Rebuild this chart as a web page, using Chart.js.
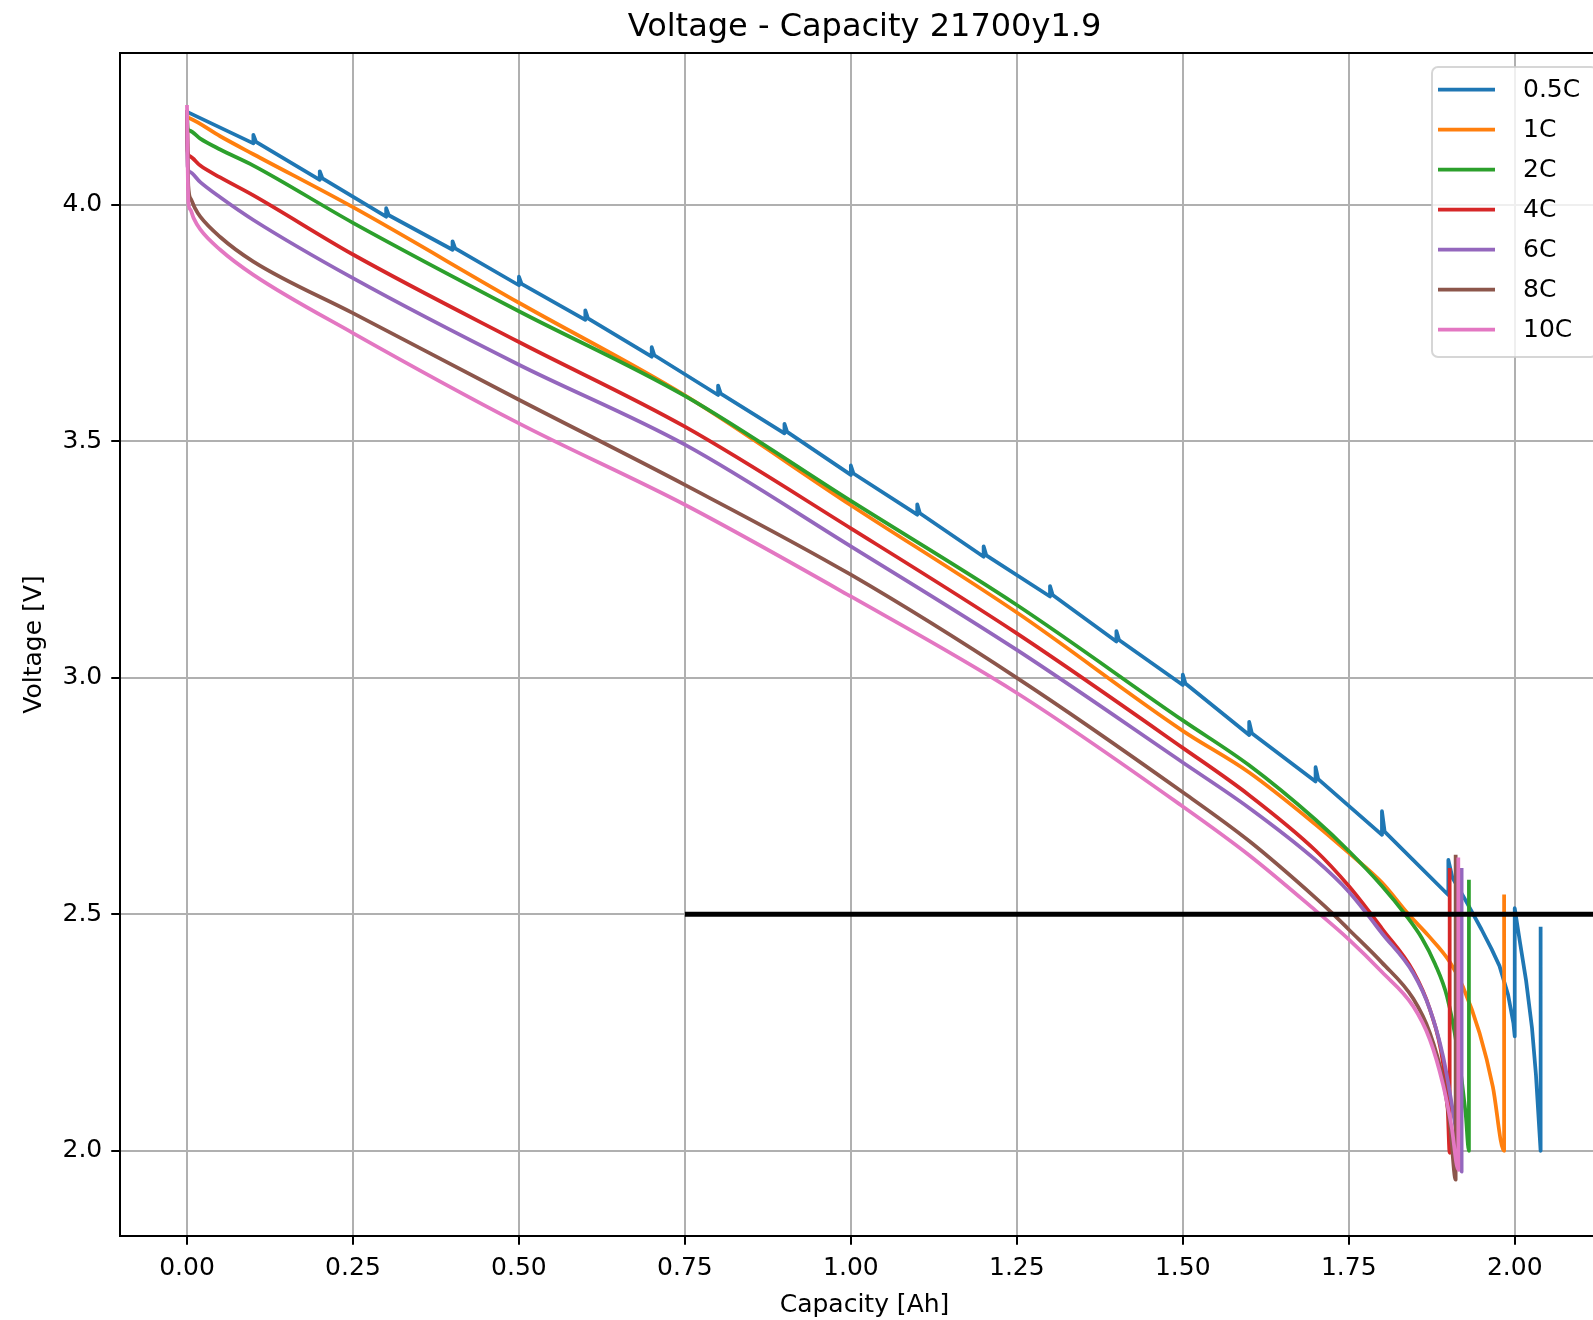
<!DOCTYPE html>
<html>
<head>
<meta charset="utf-8">
<script src="https://cdn.jsdelivr.net/npm/chart.js@4.4.1/dist/chart.umd.min.js"></script>
<style>
  html, body { margin: 0; padding: 0; background: #fff; overflow: hidden; }
  #wrap { width: 1728px; height: 1320px; }
</style>
</head>
<body>
<div id="wrap"><canvas id="graphCanvas" width="1728" height="1320"></canvas></div>
<script>
// discharge curves: capacity [Ah] / voltage [V]
const cap05 = [0, 0.001,
  0.1, 0.1, 0.104, 0.2, 0.2, 0.204, 0.3, 0.3, 0.304, 0.4, 0.4, 0.404, 0.5, 0.5, 0.504,
  0.6, 0.6, 0.604, 0.7, 0.7, 0.704, 0.8, 0.8, 0.804, 0.9, 0.9, 0.904, 1.0, 1.0, 1.004,
  1.1, 1.1, 1.104, 1.2, 1.2, 1.204, 1.3, 1.3, 1.304, 1.4, 1.4, 1.404, 1.5, 1.5, 1.504,
  1.6, 1.6, 1.604, 1.7, 1.7, 1.704, 1.8, 1.8, 1.804, 1.9, 1.9, 1.906,
  1.925, 1.95, 1.965, 1.977, 1.99, 1.998, 2.0,
  2.0, 2.008, 2.017, 2.026, 2.032, 2.039, 2.039];
const volt05 = [4.2, 4.196,
  4.130, 4.148, 4.133, 4.053, 4.071, 4.056, 3.975, 3.993, 3.978, 3.905, 3.923, 3.908, 3.830, 3.848, 3.833,
  3.757, 3.777, 3.760, 3.679, 3.699, 3.682, 3.598, 3.618, 3.601, 3.517, 3.537, 3.520, 3.429, 3.449, 3.432,
  3.345, 3.367, 3.348, 3.256, 3.278, 3.259, 3.172, 3.194, 3.175, 3.077, 3.099, 3.080, 2.985, 3.007, 2.988,
  2.879, 2.907, 2.883, 2.781, 2.811, 2.786, 2.668, 2.718, 2.675, 2.541, 2.615, 2.578,
  2.532, 2.468, 2.427, 2.391, 2.33, 2.27, 2.242,
  2.513, 2.44, 2.361, 2.26, 2.16, 2.0, 2.474];

const cap1 = [0, 0.001, 0.004, 0.05, 0.1, 0.25, 0.5, 0.75, 1.0, 1.25, 1.5, 1.6, 1.7, 1.75, 1.8, 1.84, 1.87, 1.902, 1.922, 1.947, 1.967, 1.984, 1.984];
const volt1 = [4.2, 4.187, 4.183, 4.145, 4.107, 3.995, 3.793, 3.597, 3.365, 3.138, 2.888, 2.8, 2.69, 2.63, 2.567, 2.5, 2.455, 2.40, 2.347, 2.249, 2.136, 2.0, 2.542];

const cap2 = [0, 0.001, 0.004, 0.02, 0.05, 0.1, 0.25, 0.5, 0.75, 1.0, 1.25, 1.5, 1.6, 1.7, 1.75, 1.8, 1.835, 1.86, 1.88, 1.898, 1.913, 1.926, 1.931, 1.931];
const volt2 = [4.2, 4.162, 4.157, 4.14, 4.117, 4.083, 3.962, 3.775, 3.596, 3.374, 3.154, 2.91, 2.815, 2.70, 2.634, 2.56, 2.5, 2.45, 2.395, 2.326, 2.22, 2.08, 2.0, 2.573];

const cap4 = [0, 0.001, 0.004, 0.02, 0.05, 0.1, 0.25, 0.5, 0.75, 1.0, 1.25, 1.5, 1.6, 1.7, 1.75, 1.784, 1.8, 1.847, 1.872, 1.892, 1.899, 1.902, 1.902];
const volt4 = [4.2, 4.113, 4.103, 4.083, 4.058, 4.02, 3.895, 3.71, 3.531, 3.316, 3.094, 2.852, 2.752, 2.635, 2.56, 2.5, 2.47, 2.38, 2.30, 2.186, 2.09, 1.996, 2.598];

const cap6 = [0, 0.001, 0.004, 0.02, 0.05, 0.1, 0.25, 0.5, 0.75, 1.0, 1.25, 1.5, 1.6, 1.7, 1.75, 1.778, 1.8, 1.847, 1.872, 1.892, 1.905, 1.914, 1.92, 1.92];
const volt6 = [4.2, 4.081, 4.07, 4.048, 4.016, 3.968, 3.845, 3.662, 3.493, 3.278, 3.059, 2.821, 2.725, 2.615, 2.548, 2.5, 2.46, 2.376, 2.30, 2.2, 2.1, 2.02, 1.956, 2.598];

const cap8 = [0, 0.002, 0.006, 0.012, 0.02, 0.05, 0.1, 0.25, 0.5, 0.75, 1.0, 1.25, 1.5, 1.6, 1.7, 1.727, 1.75, 1.8, 1.847, 1.872, 1.892, 1.903, 1.911, 1.911];
const volt8 = [4.2, 4.04, 4.012, 3.993, 3.975, 3.932, 3.88, 3.771, 3.588, 3.408, 3.218, 3.0, 2.758, 2.655, 2.535, 2.5, 2.468, 2.398, 2.322, 2.25, 2.15, 2.05, 1.939, 2.626];

const cap10 = [0, 0.002, 0.005, 0.01, 0.02, 0.05, 0.1, 0.25, 0.5, 0.75, 1.0, 1.25, 1.5, 1.6, 1.7, 1.75, 1.8, 1.847, 1.872, 1.892, 1.905, 1.915, 1.915];
const volt10 = [4.211, 4.007, 3.99, 3.972, 3.948, 3.905, 3.852, 3.729, 3.538, 3.366, 3.172, 2.968, 2.728, 2.625, 2.508, 2.447, 2.378, 2.306, 2.236, 2.14, 2.05, 1.96, 2.62];

// cut-off marker
const cutCap = [0.75, 2.15];
const cutVolt = [2.5, 2.5];

const rateLabels = ["0.5C", "1C", "2C", "4C", "6C", "8C", "10C"];
const rateColors = ["#1f77b4", "#ff7f0e", "#2ca02c", "#d62728", "#9467bd", "#8c564b", "#e377c2"];
const xTicks = [0, 0.25, 0.5, 0.75, 1.0, 1.25, 1.5, 1.75, 2.0];
const yTicks = [2.0, 2.5, 3.0, 3.5, 4.0];

const series = [[cap05, volt05], [cap1, volt1], [cap2, volt2], [cap4, volt4], [cap6, volt6], [cap8, volt8], [cap10, volt10]];

function toPoints(xs, ys) {
  return xs.map((x, i) => ({ x: x, y: ys[i] }));
}

const FONT = "DejaVu Sans";

var datasets = series.map(function (s, i) {
  return {
    label: rateLabels[i],
    data: toPoints(s[0], s[1]),
    borderColor: rateColors[i],
    backgroundColor: rateColors[i],
    borderWidth: 3.75,
    borderJoinStyle: "round",
    pointRadius: 0,
    // the 0.5C trace has rest spikes, keep it straight; smooth the others
    tension: i === 0 ? 0 : 0.4,
    cubicInterpolationMode: i === 0 ? "default" : "monotone",
    fill: false,
    order: series.length - i + 1,
  };
});
datasets.push({
  label: "",
  data: toPoints(cutCap, cutVolt),
  borderColor: "#000000",
  borderWidth: 5,
  pointRadius: 0,
  tension: 0,
  fill: false,
  order: 0,
});

// spines + matplotlib-style legend drawn on top
const framePlugin = {
  id: "frame",
  afterDatasetsDraw(chart) {
    const a = chart.chartArea;
    const ctx = chart.ctx;
    ctx.save();
    ctx.strokeStyle = "#000";
    ctx.lineWidth = 2;
    ctx.strokeRect(a.left, a.top, a.right - a.left, a.bottom - a.top);
    ctx.restore();
  },
  afterDraw(chart) {
    const ctx = chart.ctx;
    const bx = 1432, by = 67, bw = 165, bh = 290, r = 6;
    ctx.save();
    ctx.beginPath();
    ctx.moveTo(bx + r, by);
    ctx.lineTo(bx + bw - r, by);
    ctx.arcTo(bx + bw, by, bx + bw, by + r, r);
    ctx.lineTo(bx + bw, by + bh - r);
    ctx.arcTo(bx + bw, by + bh, bx + bw - r, by + bh, r);
    ctx.lineTo(bx + r, by + bh);
    ctx.arcTo(bx, by + bh, bx, by + bh - r, r);
    ctx.lineTo(bx, by + r);
    ctx.arcTo(bx, by, bx + r, by, r);
    ctx.closePath();
    ctx.fillStyle = "rgba(255,255,255,0.8)";
    ctx.fill();
    ctx.strokeStyle = "rgba(204,204,204,0.8)";
    ctx.lineWidth = 2;
    ctx.stroke();
    ctx.font = "25px '" + FONT + "'";
    ctx.textBaseline = "middle";
    ctx.textAlign = "left";
    chart.data.datasets.forEach(function (ds, i) {
      if (!ds.label) return;
      const y = 89.5 + i * 40.0;
      ctx.strokeStyle = ds.borderColor;
      ctx.lineWidth = 3.75;
      ctx.beginPath();
      ctx.moveTo(1438, y);
      ctx.lineTo(1495, y);
      ctx.stroke();
      ctx.fillStyle = "#000";
      ctx.fillText(ds.label, 1523, y + 1);
    });
    ctx.restore();
  },
};

var graphTarget = document.getElementById("graphCanvas");
var lineChart = new Chart(graphTarget, {
  type: "line",
  data: { datasets: datasets },
  plugins: [framePlugin],
  options: {
    responsive: false,
    animation: false,
    devicePixelRatio: 1,
    layout: { padding: { left: 0, right: 119, top: 0, bottom: 0 } },
    plugins: {
      legend: { display: false },
      tooltip: { enabled: false },
      title: {
        display: true,
        fullSize: false,
        text: "Voltage - Capacity 21700y1.9",
        color: "#000",
        font: { family: FONT, size: 32, weight: "normal" },
        padding: { top: 8.8, bottom: 5.8 },
      },
    },
    scales: {
      x: {
        type: "linear",
        min: -0.1009,
        max: 2.142,
        afterFit: function (scale) { scale.height = 84; },
        afterBuildTicks: function (scale) { scale.ticks = xTicks.map(v => ({ value: v })); },
        ticks: {
          color: "#000",
          padding: 9,
          maxRotation: 0,
          autoSkip: false,
          font: { family: FONT, size: 25 },
          callback: v => Number(v).toFixed(2),
        },
        grid: { color: "#b0b0b0", lineWidth: 2, tickLength: 8.75, tickColor: "#000", tickWidth: 2 },
        border: { display: false },
        title: {
          display: true,
          text: "Capacity [Ah]",
          color: "#000",
          font: { family: FONT, size: 25 },
          padding: { top: 0, bottom: 0 },
        },
      },
      y: {
        type: "linear",
        min: 1.820,
        max: 4.321,
        afterFit: function (scale) { scale.width = 120; },
        afterBuildTicks: function (scale) { scale.ticks = yTicks.map(v => ({ value: v })); },
        ticks: {
          color: "#000",
          padding: 9,
          autoSkip: false,
          font: { family: FONT, size: 25 },
          callback: v => Number(v).toFixed(1),
        },
        grid: { color: "#b0b0b0", lineWidth: 2, tickLength: 8.75, tickColor: "#000", tickWidth: 2 },
        border: { display: false },
        title: {
          display: true,
          text: "Voltage [V]",
          color: "#000",
          font: { family: FONT, size: 25 },
          padding: { top: 19, bottom: 0 },
        },
      },
    },
  },
});
</script>
</body>
</html>
